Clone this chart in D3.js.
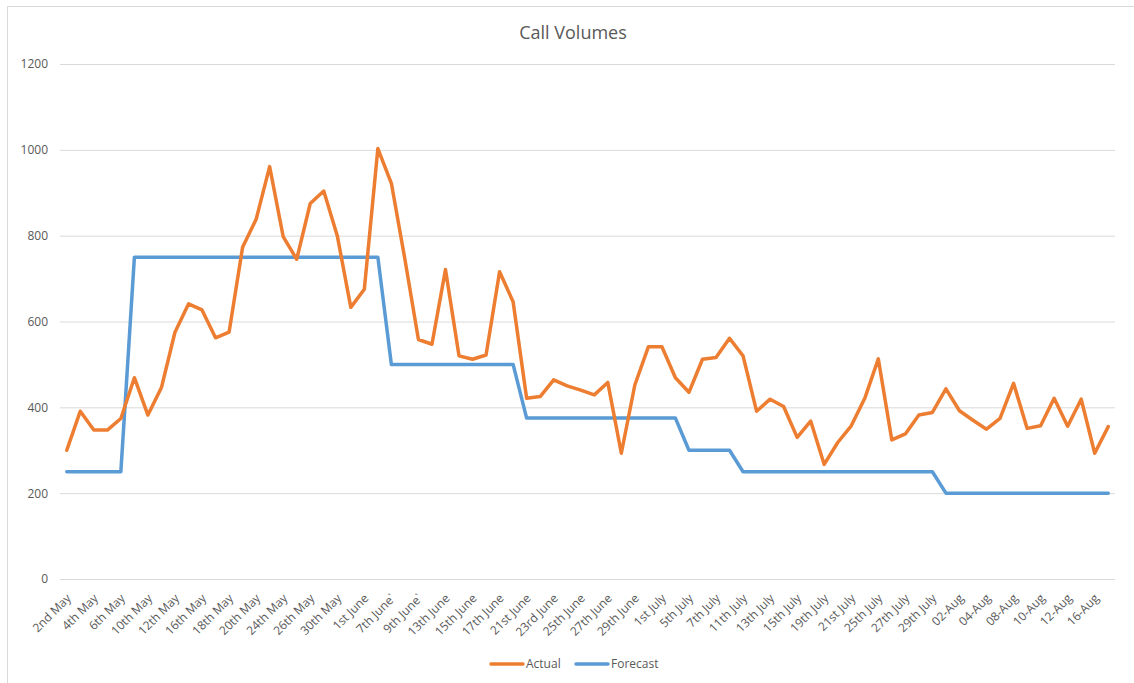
<!DOCTYPE html>
<html>
<head>
<meta charset="utf-8">
<script src="https://cdn.jsdelivr.net/npm/d3@7"></script>
<style>
  body { margin: 0; background: #fff; }
  text { font-family: "Open Sans", "Noto Sans", sans-serif; fill: #595959; }
</style>
</head>
<body>
<div id="chartLoc"></div>
<script>
// categories (every other one gets a label on the axis)
var categories = [
    "2nd May", "3rd May", "4th May", "5th May", "6th May", "9th May", "10th May", "11th May",
    "12th May", "13th May", "16th May", "17th May", "18th May", "19th May", "20th May", "23rd May",
    "24th May", "25th May", "26th May", "27th May", "30th May", "31st May", "1st June", "6th June",
    "7th June`", "8th June", "9th June`", "12th June", "13th June", "14th June", "15th June", "16th June",
    "17th June", "20th June", "21st June", "22nd June", "23rd June", "24th June", "25th June", "26th June",
    "27th June", "28th June", "29th June", "30th June", "1st July", "4th July", "5th July", "6th July",
    "7th July", "10th July", "11th July", "12th July", "13th July", "14th July", "15th July", "18th July",
    "19th July", "20th July", "21st July", "24th July", "25th July", "26th July", "27th July", "28th July",
    "29th July", "01-Aug", "02-Aug", "03-Aug", "04-Aug", "07-Aug", "08-Aug", "09-Aug",
    "10-Aug", "11-Aug", "12-Aug", "15-Aug", "16-Aug", "17-Aug"
];

var actual = [
    300, 391, 347, 347, 374, 469, 382, 446,
    575, 641, 627, 562, 575, 773, 838, 961,
    798, 745, 875, 904, 800, 633, 675, 1003,
    922, 745, 558, 547, 721, 520, 512, 522,
    716, 646, 421, 425, 464, 450, 440, 429,
    458, 293, 452, 541, 541, 469, 435, 512,
    516, 561, 520, 391, 419, 402, 330, 368,
    267, 318, 357, 421, 513, 324, 338, 382,
    388, 443, 392, 370, 349, 374, 456, 351,
    357, 421, 356, 419, 293, 355
];

var forecast = [
    250, 250, 250, 250, 250, 750, 750, 750,
    750, 750, 750, 750, 750, 750, 750, 750,
    750, 750, 750, 750, 750, 750, 750, 750,
    500, 500, 500, 500, 500, 500, 500, 500,
    500, 500, 375, 375, 375, 375, 375, 375,
    375, 375, 375, 375, 375, 375, 300, 300,
    300, 300, 250, 250, 250, 250, 250, 250,
    250, 250, 250, 250, 250, 250, 250, 250,
    250, 200, 200, 200, 200, 200, 200, 200,
    200, 200, 200, 200, 200, 200
];

var yTicks = [0, 200, 400, 600, 800, 1000, 1200];

var series = [
    { name: "Actual", values: actual, color: "#ED7D31" },
    { name: "Forecast", values: forecast, color: "#5B9BD5" }
];

var width = 1134, height = 683;
var plot = { left: 60, right: 1115, top: 64, bottom: 579 };

var svg = d3.select("#chartLoc").append("svg")
    .attr("width", width)
    .attr("height", height);

// chart border
svg.append("rect")
    .attr("x", 7.5).attr("y", 6.5)
    .attr("width", width + 10).attr("height", height + 10)
    .attr("fill", "none")
    .attr("stroke", "#D9D9D9");

// scales
var x = d3.scalePoint()
    .domain(categories)
    .range([plot.left, plot.right])
    .padding(0.5);
var y = d3.scaleLinear()
    .domain([0, 1200])
    .range([plot.bottom, plot.top]);

// gridlines + y labels
var yAxis = svg.append("g")
    .attr("transform", "translate(" + plot.left + ",0)")
    .call(d3.axisLeft(y).tickValues(yTicks).tickSize(-(plot.right - plot.left)).tickPadding(12).tickFormat(d3.format("d")));
yAxis.select(".domain").remove();
yAxis.selectAll(".tick line").attr("stroke", "#D9D9D9").attr("stroke-width", 1);
yAxis.selectAll(".tick text").attr("font-size", "12px").attr("fill", "#595959")
    .style("font-family", "'Open Sans', sans-serif");

// x labels, rotated
svg.append("g")
    .selectAll("text")
    .data(categories.filter(function(d, i) { return i % 2 == 0; }))
    .enter().append("text")
    .attr("text-anchor", "end")
    .attr("font-size", "12px")
    .attr("dy", "0.35em")
    .attr("transform", function(d) {
        return "translate(" + (x(d) + 2) + ",596) rotate(-45)"; })
    .text(function(d) { return d; });

// the lines
var line = d3.line()
    .x(function(d, i) { return x(categories[i]); })
    .y(function(d) { return y(d); });

svg.selectAll(".series")
    .data(series.slice().reverse())
    .enter().append("path")
    .attr("class", "series")
    .attr("d", function(s) { return line(s.values); })
    .attr("fill", "none")
    .attr("stroke", function(s) { return s.color; })
    .attr("stroke-width", 3.5)
    .attr("stroke-linejoin", "round")
    .attr("stroke-linecap", "round");

// title
svg.append("text")
    .attr("x", 573).attr("y", 39)
    .attr("text-anchor", "middle")
    .attr("font-size", "18px")
    .text("Call Volumes");

// legend
var legendX = [491, 576];
var legend = svg.selectAll(".legend")
    .data(series)
    .enter().append("g")
    .attr("class", "legend")
    .attr("transform", function(d, i) { return "translate(" + legendX[i] + ",664)"; });
legend.append("line")
    .attr("x1", 0).attr("x2", 32)
    .attr("stroke", function(d) { return d.color; })
    .attr("stroke-width", 3.5)
    .attr("stroke-linecap", "round");
legend.append("text")
    .attr("x", 35)
    .attr("dy", "0.35em")
    .attr("font-size", "12px")
    .text(function(d) { return d.name; });
</script>
</body>
</html>
